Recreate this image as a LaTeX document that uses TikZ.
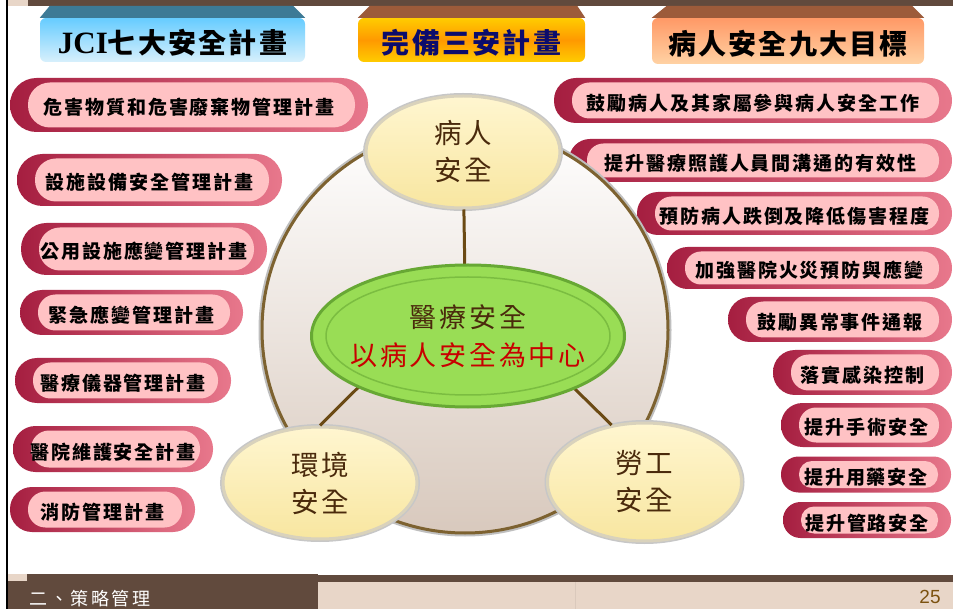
\documentclass[tikz,border=0pt]{standalone}
\usepackage{fontspec}
\usetikzlibrary{shapes.geometric}

\newfontfamily\cjk{Noto Sans CJK TC}
\newfontfamily\cjkhead[LetterSpace=8]{Noto Sans CJK TC}
\newfontfamily\cjkplan[LetterSpace=10]{Noto Sans CJK TC}
\newfontfamily\cjkarea[LetterSpace=10]{Noto Sans CJK TC}
\newfontfamily\cjkfoot[LetterSpace=14]{Noto Sans CJK TC}
\newfontfamily\latin{Liberation Serif}
\newfontfamily\latinsans{Liberation Sans}

\definecolor{bandbrown}{HTML}{614A3D}
\definecolor{bandbeige}{HTML}{E8D6C8}
\definecolor{tabblue}{HTML}{3D7A96}
\definecolor{tabrust}{HTML}{9C5B3A}
\definecolor{skytop}{HTML}{66CCFF}
\definecolor{skyfoot}{HTML}{D8F0FC}
\definecolor{amber}{HTML}{FFCC00}
\definecolor{deeporange}{HTML}{FF9900}
\definecolor{peachtop}{HTML}{FF9966}
\definecolor{peachfoot}{HTML}{FFD2A4}
\definecolor{navyink}{HTML}{0C0C6C}
\definecolor{planred}{HTML}{A51E40}
\definecolor{planrose}{HTML}{E8788C}
\definecolor{planpink}{HTML}{FFC2C4}
\definecolor{ringbrown}{HTML}{7D6230}
\definecolor{linkbrown}{HTML}{6B4A14}
\definecolor{creamtop}{HTML}{FFF6D0}
\definecolor{creamfoot}{HTML}{F8E6A0}
\definecolor{creamedge}{HTML}{D9D2BC}
\definecolor{inkbrown}{HTML}{4A2A0C}
\definecolor{medgreen}{HTML}{99DD55}
\definecolor{medrim}{HTML}{67A834}
\definecolor{centerred}{HTML}{C80000}
\definecolor{pagegold}{HTML}{7C5210}

\begin{document}
\begin{tikzpicture}[x=1pt,y=-1pt,
  tab/.style={rectangle, rounded corners=6pt, inner sep=0pt, minimum height=44pt,
    text height=28pt, text depth=0pt, font=\cjkhead\bfseries\fontsize{28}{28}\selectfont},
  plan/.style={rectangle, minimum height=#1, rounded corners=#1/2-0.5pt, inner sep=0pt,
    left color=planred, right color=planrose, text height=20pt, text depth=0pt,
    font=\cjkplan\bfseries\fontsize{19}{19}\selectfont,
    path picture={\fill[planpink, rounded corners=#1/2-5pt]
      ([xshift=18pt,yshift=4.5pt]path picture bounding box.south west) rectangle
      ([xshift=-13pt,yshift=-4.5pt]path picture bounding box.north east);}},
  area/.style={ellipse, inner sep=0pt, minimum width=194pt, minimum height=112pt,
    top color=creamtop, bottom color=creamfoot, draw=creamedge, line width=3pt,
    preaction={draw=black!22, line width=6pt}, align=center, text=inkbrown,
    font=\cjkarea\fontsize{27.5}{37}\selectfont},
  core/.style={ellipse, inner sep=0pt, minimum width=313pt, minimum height=142pt,
    fill=medgreen, draw=medrim, line width=3pt, align=center, text=inkbrown,
    font=\cjkarea\fontsize{27}{38}\selectfont,
    path picture={\draw[medrim!60!medgreen, line width=1.5pt]
      (path picture bounding box.center) ellipse (142pt and 59pt);}},
  link/.style={draw=linkbrown, line width=3pt}]

\useasboundingbox (0,0) rectangle (953,609);
\fill[white] (0,0) rectangle (953,609);

% top and bottom bands
\fill[bandbeige] (8,0) rectangle (28,6);
\fill[bandbrown] (28,0) rectangle (953,6);
\fill[bandbrown] (8,574) rectangle (318,609);
\fill[bandbeige] (8,574) rectangle (27,581);
\fill[bandbrown] (318,575) rectangle (953,582);
\fill[bandbeige] (318,582) rectangle (953,609);
\draw[bandbeige!94!black, line width=0.6pt] (575,582) -- (575,609);

% define the three headings
\node[tab, minimum width=265pt, top color=skytop, bottom color=skyfoot] (jci) at (172.5,40)
  {{\latin\bfseries\fontsize{31}{31}\selectfont JCI}七大安全計畫};
\node[tab, minimum width=227pt, top color=amber, bottom color=amber, middle color=deeporange,
  text=navyink] (trio) at (471.5,40) {完備三安計畫};
\node[tab, minimum width=272pt, minimum height=46pt, top color=peachtop, bottom color=peachfoot]
  (goals) at (788,41) {病人安全九大目標};
\fill[tabblue] (jci.north west) -- ++(10,-12) -- ([xshift=-12pt,yshift=12pt]jci.north east)
  -- (jci.north east) -- cycle;
\fill[tabrust] (trio.north west) -- ++(12,-12) -- ([xshift=-8pt,yshift=12pt]trio.north east)
  -- (trio.north east) -- cycle;
\fill[tabrust] (goals.north west) -- ++(15,-12) -- ([xshift=-12pt,yshift=12pt]goals.north east)
  -- (goals.north east) -- cycle;

% define the JCI plans
\node[plan=54pt, minimum width=358pt] (jci1) at (189,105) {危害物質和危害廢棄物管理計畫};
\node[plan=52pt, minimum width=265pt] (jci2) at (149.5,180) {設施設備安全管理計畫};
\node[plan=52pt, minimum width=246pt] (jci3) at (144,249) {公用設施應變管理計畫};
\node[plan=45pt, minimum width=223pt] (jci4) at (131.5,312.5) {緊急應變管理計畫};
\node[plan=45pt, minimum width=216pt] (jci5) at (123,380.5) {醫療儀器管理計畫};
\node[plan=46pt, minimum width=200pt] (jci6) at (113,449) {醫院維護安全計畫};
\node[plan=45pt, minimum width=185pt] (jci7) at (102.5,509.5) {消防管理計畫};

% define the patient safety goals
\node[plan=45pt, minimum width=398pt] (goal1) at (753,100.5) {鼓勵病人及其家屬參與病人安全工作};
\node[plan=43pt, minimum width=383pt] (goal2) at (760.5,160.5) {提升醫療照護人員間溝通的有效性};
\node[plan=43pt, minimum width=315pt] (goal3) at (794.5,213.5) {預防病人跌倒及降低傷害程度};
\node[plan=42pt, minimum width=285pt] (goal4) at (809.5,268) {加強醫院火災預防與應變};
\node[plan=45pt, minimum width=224pt] (goal5) at (840,319.5) {鼓勵異常事件通報};
\node[plan=45pt, minimum width=179pt] (goal6) at (862.5,372.5) {落實感染控制};
\node[plan=44pt, minimum width=171pt] (goal7) at (866.5,425) {提升手術安全};
\node[plan=36pt, minimum width=170pt] (goal8) at (866,474.5) {提升用藥安全};
\node[plan=36pt, minimum width=168pt] (goal9) at (867,520) {提升管路安全};

% define the three safeties round the centre
\node[circle, minimum size=406pt, top color=white, bottom color=bandbeige!85!gray,
  draw=ringbrown, line width=3pt, preaction={draw=black!25, line width=7pt}] (ring) at (465,330) {};
\node[area] (pat) at (463,152) {病人\\安全};
\node[area] (env) at (320,483) {環境\\安全};
\node[area, minimum height=118pt] (lab) at (644.5,482) {勞工\\安全};

% define the links
\coordinate (hub) at (465,281);
\path[link] (hub) edge (pat) edge (env.north) edge (lab.120);

\node[core] (med) at (468,336)
  {\makebox[0pt]{醫療安全}\\\makebox[0pt]{\color{centerred}以病人安全為中心}};

% footer
\node[font=\cjkfoot\fontsize{18}{18}\selectfont, text=white] (part) at (90,599) {二、策略管理};
\node[font=\latinsans\fontsize{19}{19}\selectfont, text=pagegold] (page) at (930,597) {25};

\draw[line width=2pt] (7,0) -- (7,609);
\end{tikzpicture}
\end{document}
